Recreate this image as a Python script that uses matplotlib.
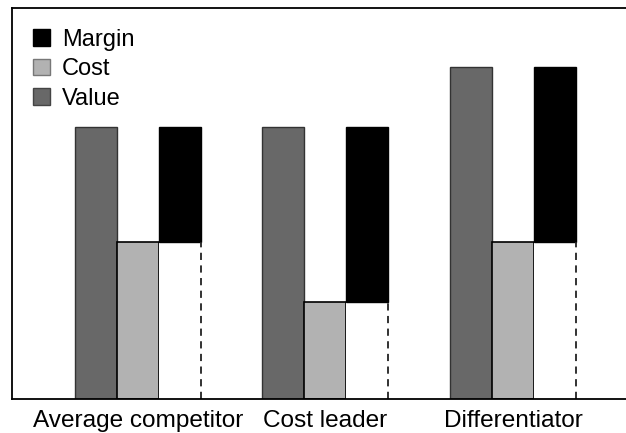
import numpy as np
import matplotlib.pyplot as plt
from matplotlib.patches import Patch

plt.rcParams['font.family'] = ['Liberation Sans', 'DejaVu Sans']

categories = ["Average competitor", "Cost leader", "Differentiator"]
value = [4.5, 4.5, 5.5]
cost = [2.6, 1.6, 2.6]
margin = [v - c for v, c in zip(value, cost)]

dark = "#686868"
light = "#b2b2b2"

fig = plt.figure(figsize=(6.26, 4.33), dpi=100)
ax = fig.add_axes([12 / 626, 34 / 433, 614 / 626, 391 / 433])

x = np.arange(len(categories))
w = 0.224

ax.bar(x - w, value, w, color=dark, edgecolor="#333333", linewidth=1.0)
ax.bar(x, cost, w, color=light, edgecolor="black", linewidth=1.2)
ax.bar(x + w, cost, w, color="white", edgecolor="none")
ax.bar(x + w, margin, w, bottom=cost, color="black", edgecolor="black", linewidth=1.0)
# dashed right edge of the hidden cost part under the margin
ax.vlines(x + 1.5 * w, 0, cost, colors="#222222", linestyles=(0, (4, 3)), linewidth=1.3)

ax.set_xlim(-0.672, 2.603)
ax.set_ylim(0, 6.47)
ax.set_xticks(x)
ax.set_xticklabels(categories, fontsize=17.6)
ax.tick_params(axis="x", length=0, pad=8)
ax.set_yticks([])
ax.spines["right"].set_visible(False)
for s in ["left", "top", "bottom"]:
    ax.spines[s].set_linewidth(1.3)

handles = [
    Patch(facecolor="black", edgecolor="black"),
    Patch(facecolor=light, edgecolor="#777777"),
    Patch(facecolor=dark, edgecolor="#444444"),
]
ax.legend(handles, ["Margin", "Cost", "Value"], loc="upper left",
          bbox_to_anchor=(0.034, 0.947), frameon=False, fontsize=17,
          handlelength=0.72, handleheight=0.72, handletextpad=0.5,
          labelspacing=0.32, borderpad=0, borderaxespad=0)

fig.savefig("out.png", dpi=100)
